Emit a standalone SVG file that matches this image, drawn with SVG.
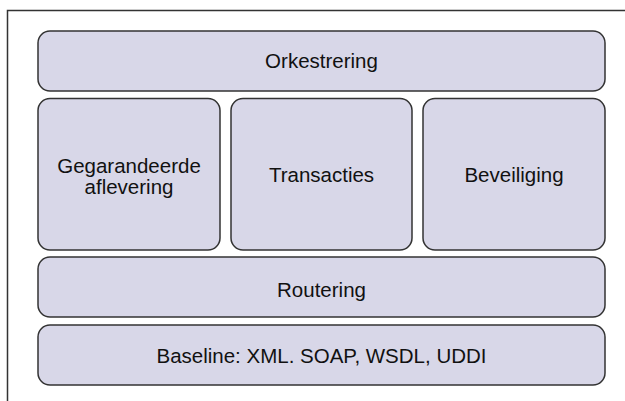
<svg xmlns="http://www.w3.org/2000/svg" width="625" height="401" viewBox="0 0 625 401">
<style>
.box{fill:#d8d7e8;stroke:#333;stroke-width:1.5}
.t{font-family:"Liberation Sans",Arial,sans-serif;font-size:20.5px;fill:#111;text-anchor:middle}
</style>
<rect width="625" height="401" fill="#fff"/>
<path d="M7.5,401 V10.5 H625" fill="none" stroke="#333" stroke-width="1.5"/>
<g id="orkestrering"><rect class="box" x="38" y="31" width="567" height="60" rx="12"/><text class="t" x="321.5" y="68">Orkestrering</text></g>
<g id="gegarandeerde"><rect class="box" x="38" y="98.5" width="182" height="151.5" rx="12"/><text class="t" x="129" y="173">Gegarandeerde</text><text class="t" x="129" y="194">aflevering</text></g>
<g id="transacties"><rect class="box" x="231" y="98.5" width="181" height="151.5" rx="12"/><text class="t" x="321.5" y="182">Transacties</text></g>
<g id="beveiliging"><rect class="box" x="423" y="98.5" width="182" height="151.5" rx="12"/><text class="t" x="514" y="182">Beveiliging</text></g>
<g id="routering"><rect class="box" x="38" y="257" width="567" height="60" rx="12"/><text class="t" x="321.5" y="297">Routering</text></g>
<g id="baseline"><rect class="box" x="38" y="325" width="567" height="60" rx="12"/><text class="t" x="321.5" y="363">Baseline: XML. SOAP, WSDL, UDDI</text></g>
<g id="connectors"/>
</svg>
